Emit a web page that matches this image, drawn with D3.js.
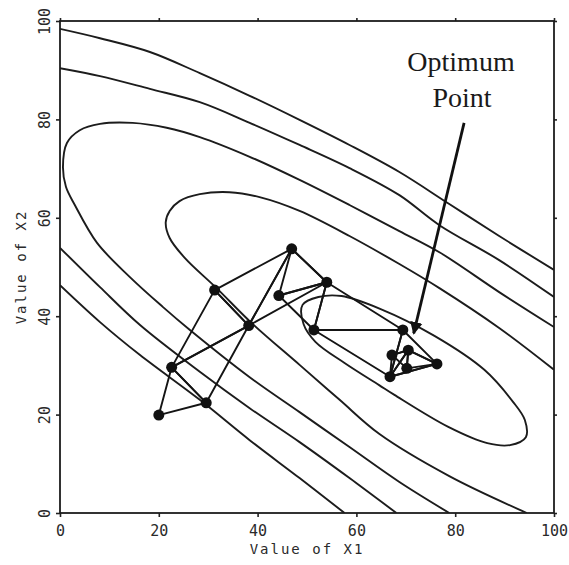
<!DOCTYPE html>
<html>
<head>
<meta charset="utf-8">
<script src="https://cdn.jsdelivr.net/npm/d3@7"></script>
<style>
  html, body { margin: 0; padding: 0; background: #fff; }
  svg { display: block; }
  .tick-label { font-family: "DejaVu Sans Mono", monospace; font-size: 15px; fill: #2a2a2a; }
  .axis-title { font-family: "DejaVu Sans Mono", monospace; font-size: 14px; fill: #2a2a2a; letter-spacing: 2px; }
  .note { font-family: "Liberation Serif", "Times New Roman", serif; font-size: 28px; fill: #1a1a1a; }
</style>
</head>
<body>
<div id="chart"></div>
<script>
// Contour lines of the response surface as [X1, X2]
const contourOuterTop = [[0,98.4],[8.1,96.5],[18.2,93.7],[28.3,89.4],[38.4,84.8],[48.5,79.9],[58.6,74.8],[68.7,69.3],[78.8,62.8],[88.9,56.3],[100,49.4]];
const contourOuterLow = [[0,46.3],[8.1,38.8],[16.2,32.1],[28.3,23.0],[38.4,14.8],[48.5,7.1],[57.6,0]];
const contourSecondTop = [[0,90.4],[8.1,88.8],[18.2,86.2],[28.3,83.5],[38.4,79.3],[48.5,74.8],[58.6,70.1],[68.7,64.6],[76.8,58.5],[88.9,51.4],[100,43.9]];
const contourSecondLow = [[0,53.9],[8.1,45.9],[16.2,38.2],[28.3,28.7],[38.4,21.3],[48.5,14.4],[58.6,7.1],[68.1,0]];
const contourLoop = [[100,37.8],[88.9,44.9],[76.8,53.0],[68.7,57.3],[58.6,62.6],[48.5,67.7],[38.4,72.4],[28.3,76.4],[21.6,78.3],[14.7,79.3],[8.1,79.1],[4.0,77.8],[1.4,75.2],[0.6,70.3],[1.2,66.3],[3.0,62.6],[7.5,54.9],[14.1,48.0],[20.8,41.9],[26.3,37.2],[38.4,27.6],[48.5,20.5],[58.6,13.4],[68.7,6.3],[78.8,0]];
const contourFourth = [[100,29.1],[88.9,37.6],[76.8,45.7],[68.7,50.6],[58.6,56.3],[48.5,61.4],[40.4,64.2],[34.3,65.2],[28.3,64.8],[24.2,63.4],[22.2,61.4],[21.4,59.1],[22.2,55.9],[25.3,51.8],[31.7,45.7],[38.8,38.6],[48.5,30.1],[56.6,23.0],[64.6,16.1],[78.8,7.5],[94.5,0]];
const contourInner = [[49.1,42.3],[52.3,43.9],[57.0,44.1],[64.8,41.5],[75.8,36.0],[85.9,29.1],[91.7,22.6],[94.1,18.9],[94.3,15.4],[91.1,13.8],[86.5,14.2],[78.6,17.5],[67.7,24.0],[64.6,26.0],[57.6,30.5],[51.7,34.8],[49.3,38.4]];

// Simplex vertices
const pointNames = ['A','B','C','D','E','F','G','H','I','J','K','L','M','N','O'];
const pointX1 = [20.0, 22.6, 29.6, 31.3, 38.2, 46.9, 44.3, 54.0, 51.4, 69.4, 67.2, 70.5, 66.8, 70.2, 76.3];
const pointX2 = [19.9, 29.6, 22.4, 45.3, 38.1, 53.7, 44.2, 46.9, 37.2, 37.2, 32.1, 33.1, 27.7, 29.4, 30.3];

// Successive simplexes (triangles of vertex names)
const simplexes = [['A','B','C'],['B','C','E'],['B','D','E'],['D','E','F'],['E','F','H'],['F','H','G'],['G','H','I'],['H','I','J'],['I','J','M'],['J','M','O'],['M','O','L'],['M','L','K'],['K','L','N'],['L','N','O']];

const xTicks = [0, 20, 40, 60, 80, 100];
const yTicks = [0, 20, 40, 60, 80, 100];

const annotationLines = ['Optimum', 'Point'];
const arrowFrom = [81.8, 79.3];
const arrowTo = [71.6, 36.5];

const width = 569, height = 565;
const margin = { left: 60, right: 15, top: 21, bottom: 52 };

const svg = d3.select('#chart').append('svg')
    .attr('width', width)
    .attr('height', height);

svg.append('rect').attr('width', width).attr('height', height).attr('fill', '#fff');

const x = d3.scaleLinear().domain([0, 100]).range([margin.left, width - margin.right]);
const y = d3.scaleLinear().domain([0, 100]).range([height - margin.bottom, margin.top]);

const defs = svg.append('defs');
defs.append('clipPath').attr('id', 'plot-clip')
    .append('rect')
    .attr('x', x(0)).attr('y', y(100))
    .attr('width', x(100) - x(0)).attr('height', y(0) - y(100));

defs.append('marker')
    .attr('id', 'arrow-head')
    .attr('viewBox', '0 0 10 10')
    .attr('refX', 9).attr('refY', 5)
    .attr('markerWidth', 4.5).attr('markerHeight', 5)
    .attr('markerUnits', 'strokeWidth')
    .attr('orient', 'auto')
    .append('path')
    .attr('d', 'M0,0 L10,5 L0,10 Z')
    .attr('fill', '#111');

// Contours
const plot = svg.append('g').attr('clip-path', 'url(#plot-clip)');

const openLine = d3.line()
    .x(d => x(d[0])).y(d => y(d[1]))
    .curve(d3.curveCatmullRom.alpha(0.5));
const closedLine = d3.line()
    .x(d => x(d[0])).y(d => y(d[1]))
    .curve(d3.curveCatmullRomClosed.alpha(0.5));

const openContours = [contourOuterTop, contourOuterLow, contourSecondTop, contourSecondLow, contourLoop, contourFourth];

plot.selectAll('.contour')
    .data(openContours)
    .enter()
    .append('path')
    .attr('class', 'contour')
    .attr('d', openLine)
    .attr('fill', 'none')
    .attr('stroke', '#1c1c1c')
    .attr('stroke-width', 1.9);

plot.append('path')
    .datum(contourInner)
    .attr('d', closedLine)
    .attr('fill', 'none')
    .attr('stroke', '#1c1c1c')
    .attr('stroke-width', 1.9);

// Simplex path
const points = pointNames.map((name, i) => ({ name: name, x1: pointX1[i], x2: pointX2[i] }));
const byName = {};
points.forEach(p => { byName[p.name] = p; });

plot.selectAll('.simplex')
    .data(simplexes)
    .enter()
    .append('path')
    .attr('class', 'simplex')
    .attr('d', tri => 'M' + tri.map(n => x(byName[n].x1) + ',' + y(byName[n].x2)).join('L') + 'Z')
    .attr('fill', 'none')
    .attr('stroke', '#141414')
    .attr('stroke-width', 1.9)
    .attr('stroke-linejoin', 'round');

plot.selectAll('.vertex')
    .data(points)
    .enter()
    .append('circle')
    .attr('class', 'vertex')
    .attr('cx', d => x(d.x1))
    .attr('cy', d => y(d.x2))
    .attr('r', 5.5)
    .attr('fill', '#111');

// Axes: ticks on all four sides, labels on left and bottom
const bottomAxis = svg.append('g')
    .attr('transform', `translate(0, ${y(0)})`)
    .call(d3.axisBottom(x).tickValues(xTicks).tickSize(4).tickSizeOuter(0));
bottomAxis.selectAll('text')
    .attr('class', 'tick-label')
    .attr('y', 12)
    .attr('dy', '0.71em')
    .attr('font-size', null)
    .attr('font-family', null);

const leftAxis = svg.append('g')
    .attr('transform', `translate(${x(0)}, 0)`)
    .call(d3.axisLeft(y).tickValues(yTicks).tickSize(4).tickSizeOuter(0));
leftAxis.selectAll('text')
    .attr('class', 'tick-label')
    .attr('transform', 'rotate(-90)')
    .attr('x', 0)
    .attr('y', -10)
    .attr('dy', 0)
    .attr('text-anchor', 'middle')
    .attr('font-size', null)
    .attr('font-family', null);

svg.append('g')
    .attr('transform', `translate(0, ${y(100)})`)
    .call(d3.axisTop(x).tickValues(xTicks).tickSize(3).tickSizeOuter(0).tickFormat(''));
svg.append('g')
    .attr('transform', `translate(${x(100)}, 0)`)
    .call(d3.axisRight(y).tickValues(yTicks).tickSize(3).tickSizeOuter(0).tickFormat(''));

svg.selectAll('.domain').remove();
svg.selectAll('.tick line').attr('stroke', '#222').attr('stroke-width', 1.6);

// Frame
svg.append('rect')
    .attr('x', x(0)).attr('y', y(100))
    .attr('width', x(100) - x(0)).attr('height', y(0) - y(100))
    .attr('fill', 'none')
    .attr('stroke', '#1c1c1c')
    .attr('stroke-width', 1.8);

// Axis titles
svg.append('text')
    .attr('class', 'axis-title')
    .attr('x', (x(0) + x(100)) / 2)
    .attr('y', 554)
    .attr('text-anchor', 'middle')
    .text('Value of X1');

svg.append('text')
    .attr('class', 'axis-title')
    .attr('transform', `translate(26, ${(y(0) + y(100)) / 2}) rotate(-90)`)
    .attr('text-anchor', 'middle')
    .text('Value of X2');

// Annotation
svg.append('text')
    .attr('class', 'note')
    .attr('x', 461).attr('y', 71)
    .attr('text-anchor', 'middle')
    .text(annotationLines[0]);
svg.append('text')
    .attr('class', 'note')
    .attr('x', 462).attr('y', 107)
    .attr('text-anchor', 'middle')
    .text(annotationLines[1]);

svg.append('line')
    .attr('x1', x(arrowFrom[0])).attr('y1', y(arrowFrom[1]))
    .attr('x2', x(arrowTo[0])).attr('y2', y(arrowTo[1]))
    .attr('stroke', '#111')
    .attr('stroke-width', 2.8)
    .attr('marker-end', 'url(#arrow-head)');
</script>
</body>
</html>
